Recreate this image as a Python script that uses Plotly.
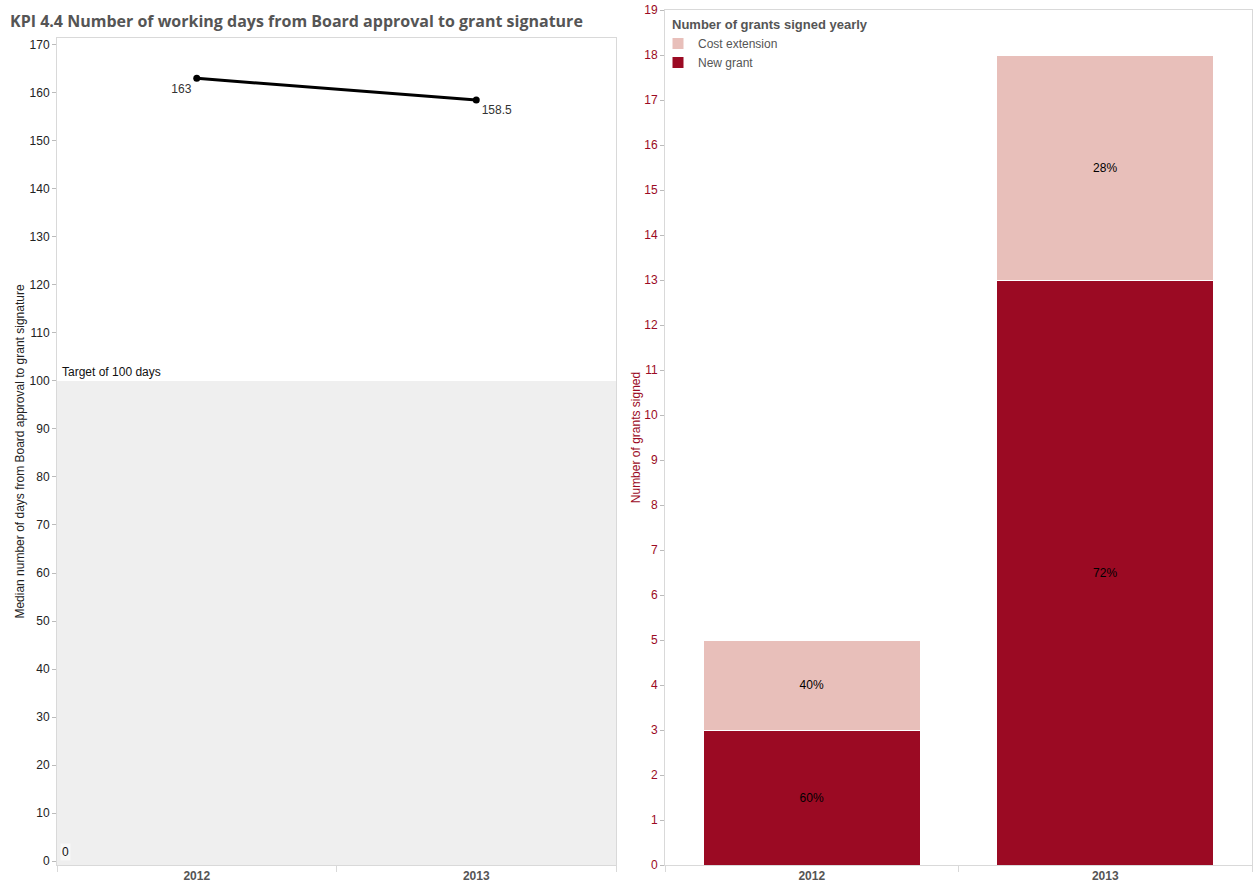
import plotly.graph_objects as go

years = ["2012", "2013"]
median_days = [163, 158.5]
target_days = 100
new_grant = [3, 13]
cost_extension = [2, 5]
new_pct = ["60%", "72%"]
ext_pct = ["40%", "28%"]

W, H = 1256, 882
RED = "#9b0a23"
PINK = "#e8bfba"
FONT = "Liberation Sans"

def fx(px):
    return px / W

def fy(py):
    return 1 - py / H

xi = list(range(len(years)))

fig = go.Figure()

# left line chart
fig.add_trace(go.Scatter(
    x=xi, y=median_days, mode="lines+markers+text",
    line=dict(color="black", width=3), marker=dict(color="black", size=7),
    text=[str(v) if v % 1 else str(int(v)) for v in median_days],
    textposition=["bottom left", "bottom right"],
    textfont=dict(family=FONT, size=12, color="#333"),
    xaxis="x", yaxis="y", showlegend=False, cliponaxis=False))

# right stacked bars
fig.add_trace(go.Bar(
    x=xi, y=new_grant, name="New grant", marker=dict(color=RED, line=dict(color="white", width=1)),
    text=new_pct, textposition="inside", insidetextanchor="middle",
    textfont=dict(family=FONT, size=12, color="black"), width=0.74,
    xaxis="x2", yaxis="y2"))
fig.add_trace(go.Bar(
    x=xi, y=cost_extension, name="Cost extension", marker=dict(color=PINK, line=dict(color="white", width=1)),
    text=ext_pct, textposition="inside", insidetextanchor="middle",
    textfont=dict(family=FONT, size=12, color="black"), width=0.74,
    xaxis="x2", yaxis="y2"))

axis_common = dict(showgrid=False, zeroline=False, showline=True, mirror=True,
                   linecolor="#d9d9d9", linewidth=1, automargin=False)

fig.update_layout(
    width=W, height=H, margin=dict(l=0, r=0, t=0, b=0, autoexpand=False),
    paper_bgcolor="white", plot_bgcolor="white",
    barmode="stack", uniformtext=dict(mode="show", minsize=8),
    font=dict(family=FONT, size=12, color="#333"),
    xaxis=dict(domain=[fx(57), fx(616)], range=[-0.5, 1.5], tickvals=xi, ticktext=years,
               ticks="", tickfont=dict(family=FONT, size=12, color="#555", weight="bold"),
               minor=dict(tickvals=[-0.5, 0.5, 1.5], ticks="outside", ticklen=6, tickcolor="#d9d9d9"),
               anchor="y", **axis_common),
    yaxis=dict(domain=[fy(865), fy(38)], range=[-0.8, 171.4], tickvals=list(range(0, 171, 10)),
               ticks="outside", ticklen=4, tickcolor="#bbb", tickfont=dict(family=FONT, size=12, color="#222"),
               title=dict(text="Median number of days from Board approval to grant signature",
                          font=dict(family=FONT, size=12, color="#222"), standoff=2),
               anchor="x", **axis_common),
    xaxis2=dict(domain=[fx(665), fx(1252)], range=[-0.5, 1.5], tickvals=xi, ticktext=years,
                ticks="", tickfont=dict(family=FONT, size=12, color="#555", weight="bold"),
                minor=dict(tickvals=[-0.5, 0.5, 1.5], ticks="outside", ticklen=6, tickcolor="#d9d9d9"),
                anchor="y2", **axis_common),
    yaxis2=dict(domain=[fy(865), fy(10)], range=[0, 19], tickvals=list(range(0, 20)),
                ticks="outside", ticklen=4, tickcolor="#bbb", tickfont=dict(family=FONT, size=12, color=RED),
                title=dict(text="Number of grants signed", font=dict(family=FONT, size=12, color=RED), standoff=1),
                anchor="x2", **axis_common),
    legend=dict(x=fx(658), y=fy(29), xanchor="left", yanchor="top", traceorder="reversed",
                font=dict(family=FONT, size=12, color="#555"), bgcolor="rgba(255,255,255,0)",
                itemwidth=30, tracegroupgap=2),
    title=dict(text="KPI 4.4 Number of working days from Board approval to grant signature",
               x=fx(10), xanchor="left", y=fy(21), yanchor="middle",
               font=dict(family="Open Sans", size=16, color="#555", weight="bold")),
    shapes=[dict(type="rect", xref="x domain", yref="y", x0=0, x1=1, y0=-0.8, y1=target_days,
                 fillcolor="#efefef", line=dict(width=0), layer="below")],
    annotations=[
        dict(text="Target of %d days" % target_days, xref="x domain", yref="y", x=0.005, y=target_days,
             xanchor="left", yanchor="bottom", showarrow=False, font=dict(family=FONT, size=12, color="#111")),
        dict(text="0", xref="x domain", yref="y", x=0.005, y=0, xanchor="left", yanchor="bottom",
             showarrow=False, bgcolor="#f8f8f8", font=dict(family=FONT, size=12, color="#111")),
        dict(text="<b>Number of grants signed yearly</b>", xref="paper", yref="paper",
             x=fx(670), y=fy(25), xanchor="left", yanchor="middle", showarrow=False,
             font=dict(family=FONT, size=13, color="#555")),
    ],
)

fig.write_html("out.html")
